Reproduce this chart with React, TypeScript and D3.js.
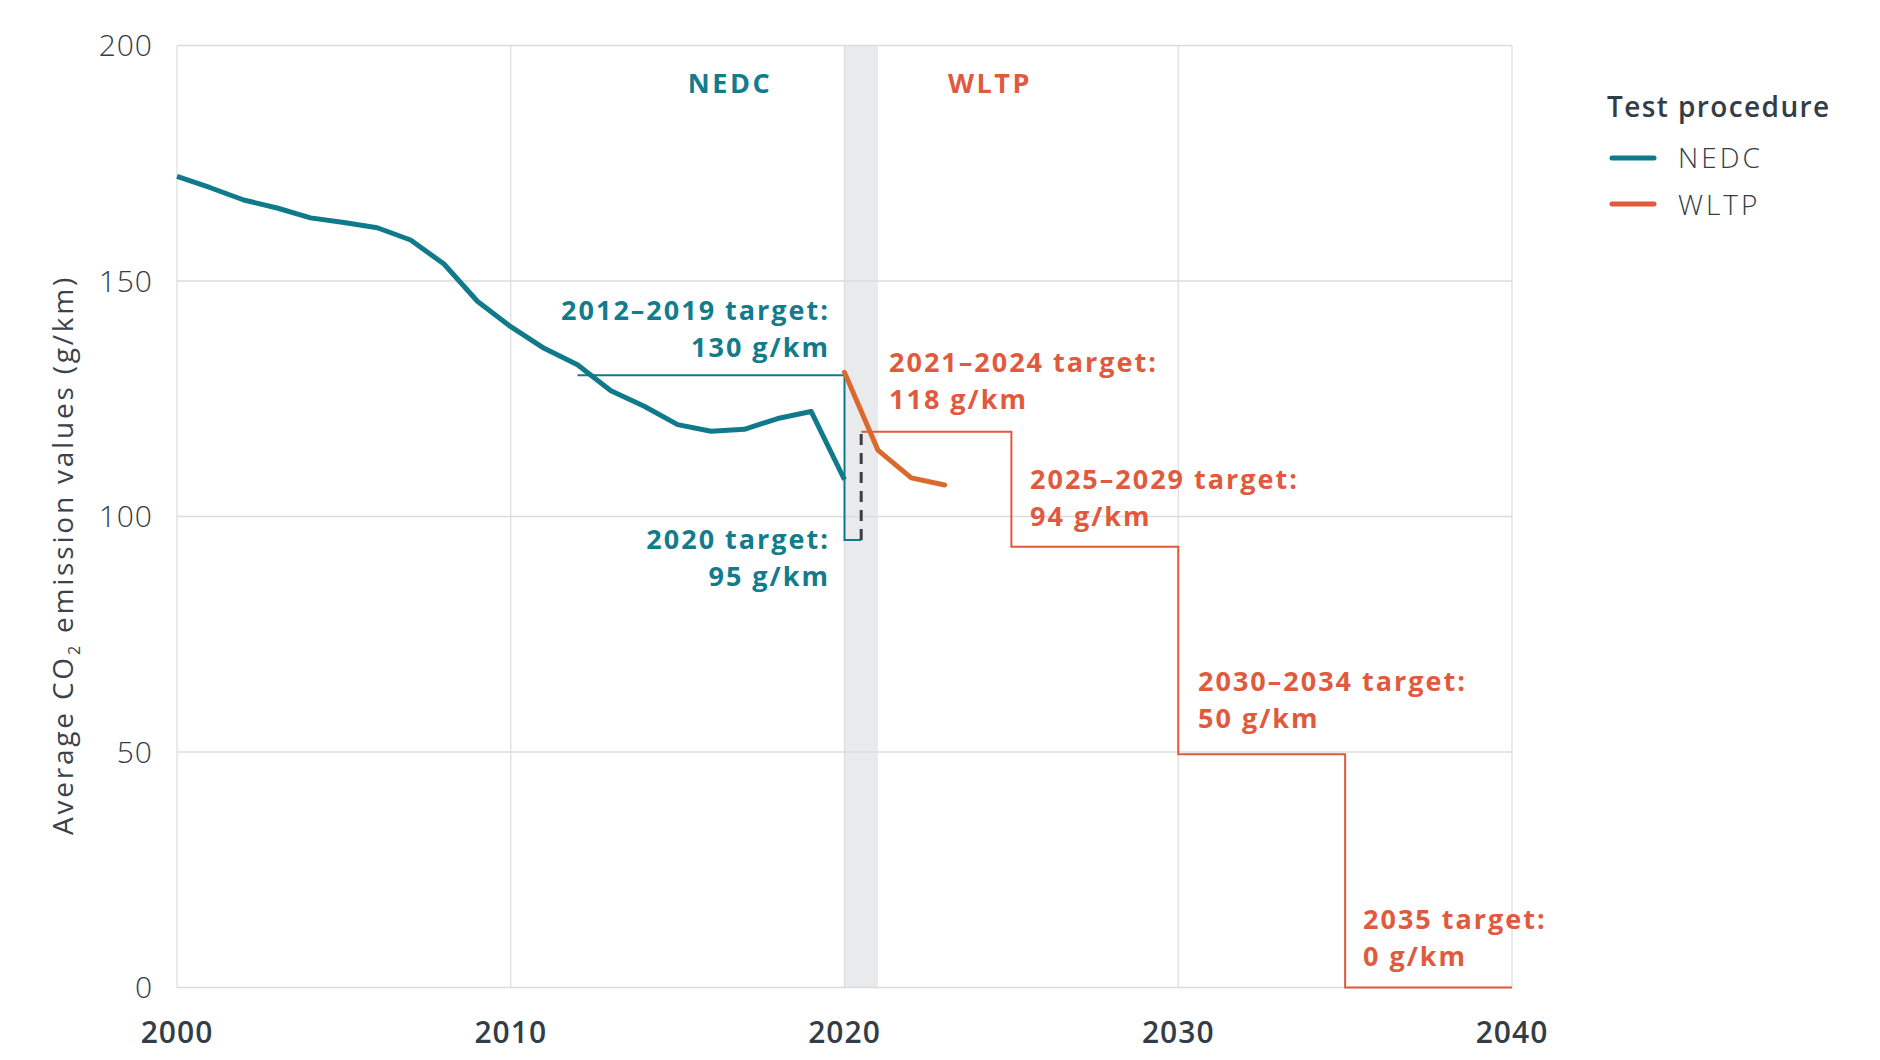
import React from 'react';
import * as d3 from 'd3';

const W = 1880;
const H = 1060;

// NEDC fleet averages, g/km
const nedcYears = [2000, 2001, 2002, 2003, 2004, 2005, 2006, 2007, 2008, 2009, 2010, 2011, 2012, 2013, 2014, 2015, 2016, 2017, 2018, 2019, 2020];
const nedcValues = [172.2, 169.8, 167.2, 165.5, 163.4, 162.4, 161.3, 158.7, 153.6, 145.7, 140.3, 135.7, 132.2, 126.7, 123.4, 119.5, 118.1, 118.5, 120.8, 122.3, 107.8];

// WLTP fleet averages
const wltpYears = [2020, 2021, 2022, 2023];
const wltpValues = [130.6, 114.1, 108.2, 106.7];

// target steps
const nedcTargetYears = [2012, 2020, 2020, 2020.5];
const nedcTargetValues = [130, 130, 95, 95];
const wltpTargetYears = [2020.5, 2025, 2025, 2030, 2030, 2035, 2035, 2040];
const wltpTargetValues = [118, 118, 93.6, 93.6, 49.5, 49.5, 0, 0];

const yTicks = [0, 50, 100, 150, 200];
const xTicks = [2000, 2010, 2020, 2030, 2040];

const TEAL = '#0f7a8a';
const TEAL_TXT = '#127c8c';
const ORANGE = '#e05a3d';
const ORANGE_LINE = '#d9692c';
const INK = '#333d47';
const GRID = '#dcdcdc';
const FONT = '"Open Sans", sans-serif';

export default function App() {
  const x = d3.scaleLinear().domain([2000, 2040]).range([177, 1512]);
  const y = d3.scaleLinear().domain([0, 200]).range([987.5, 45.5]);

  const line = d3.line<[number, number]>().x(d => x(d[0])).y(d => y(d[1]));
  const zip = (a: number[], b: number[]) => a.map((v, i) => [v, b[i]] as [number, number]);

  const labels = [
    { lines: ['2012–2019 target:', '130 g/km'], x: 830, y: 320, anchor: 'end', color: TEAL_TXT },
    { lines: ['2020 target:', '95 g/km'], x: 830, y: 549, anchor: 'end', color: TEAL_TXT },
    { lines: ['2021–2024 target:', '118 g/km'], x: 889, y: 372, anchor: 'start', color: ORANGE },
    { lines: ['2025–2029 target:', '94 g/km'], x: 1030, y: 489, anchor: 'start', color: ORANGE },
    { lines: ['2030–2034 target:', '50 g/km'], x: 1198, y: 691, anchor: 'start', color: ORANGE },
    { lines: ['2035 target:', '0 g/km'], x: 1363, y: 929, anchor: 'start', color: ORANGE },
  ];

  return (
    <div style={{ position: 'absolute', left: 0, top: 0 }}>
      <svg width={W} height={H} style={{ display: 'block', background: '#fff' }}>
        {/* transition band */}
        <rect x={x(2020)} y={y(200)} width={x(2021) - x(2020)} height={y(0) - y(200)} fill="#e9eaeb" />

        {/* grid */}
        {yTicks.map(t => (
          <line key={'gy' + t} x1={x(2000)} x2={x(2040)} y1={y(t)} y2={y(t)} stroke={GRID} strokeWidth={1.5} />
        ))}
        {xTicks.map(t => (
          <line key={'gx' + t} x1={x(t)} x2={x(t)} y1={y(0)} y2={y(200)} stroke={GRID} strokeWidth={1.2} />
        ))}

        {/* y ticks */}
        {yTicks.map(t => (
          <text key={'ty' + t} x={153} y={y(t)} dy="0.36em" textAnchor="end" fontFamily={FONT} fontSize={30} fontWeight={300} letterSpacing={1} fill={INK}>{t}</text>
        ))}
        {/* x ticks */}
        {xTicks.map(t => (
          <text key={'tx' + t} x={x(t)} y={1043} textAnchor="middle" fontFamily={FONT} fontSize={30} fontWeight={600} letterSpacing={1} fill={INK}>{t}</text>
        ))}

        {/* y axis title */}
        <text transform="translate(63,555) rotate(-90)" textAnchor="middle" fontFamily={FONT} fontSize={28} fill="#3a434c" letterSpacing={2.8} dy="0.35em">
          Average CO<tspan fontSize={16} dy={7}>2</tspan><tspan dy={-7}> emission values (g/km)</tspan>
        </text>

        {/* targets */}
        <path d={line(zip(nedcTargetYears, nedcTargetValues)) || ''} fill="none" stroke={TEAL} strokeWidth={2} />
        <line x1={x(2020.5)} x2={x(2020.5)} y1={y(95)} y2={y(118.5)} stroke="#3a3f45" strokeWidth={3} strokeDasharray="11 8" />
        <path d={line(zip(wltpTargetYears, wltpTargetValues)) || ''} fill="none" stroke={ORANGE} strokeWidth={2} />

        {/* fleet averages */}
        <path d={line(zip(nedcYears, nedcValues)) || ''} fill="none" stroke={TEAL} strokeWidth={5} strokeLinejoin="round" />
        <path d={line(zip(wltpYears, wltpValues)) || ''} fill="none" stroke={ORANGE_LINE} strokeWidth={5} strokeLinejoin="round" strokeLinecap="round" />

        {/* period labels */}
        <text x={730} y={84} dy="0.35em" textAnchor="middle" fontFamily={FONT} fontSize={27} fontWeight={700} letterSpacing={2.5} fill={TEAL_TXT}>NEDC</text>
        <text x={990} y={84} dy="0.35em" textAnchor="middle" fontFamily={FONT} fontSize={27} fontWeight={700} letterSpacing={2.5} fill={ORANGE}>WLTP</text>

        {/* target labels */}
        {labels.map((l, i) => (
          <text key={'l' + i} x={l.x} y={l.y} textAnchor={l.anchor as any} fontFamily={FONT} fontSize={27} fontWeight={700} letterSpacing={2} fill={l.color}>
            {l.lines.map((s, j) => (
              <tspan key={j} x={l.x} dy={j === 0 ? 0 : 36.5}>{s}</tspan>
            ))}
          </text>
        ))}

        {/* legend */}
        <text x={1607} y={117} fontFamily={FONT} fontSize={28} fontWeight={600} letterSpacing={1.4} fill={INK}>Test procedure</text>
        <line x1={1612} x2={1654} y1={158} y2={158} stroke={TEAL} strokeWidth={5} strokeLinecap="round" />
        <text x={1678} y={168} fontFamily={FONT} fontSize={28} fontWeight={300} letterSpacing={3} fill={INK}>NEDC</text>
        <line x1={1612} x2={1654} y1={204} y2={204} stroke={ORANGE} strokeWidth={5} strokeLinecap="round" />
        <text x={1678} y={215} fontFamily={FONT} fontSize={28} fontWeight={300} letterSpacing={3} fill={INK}>WLTP</text>
      </svg>
    </div>
  );
}
